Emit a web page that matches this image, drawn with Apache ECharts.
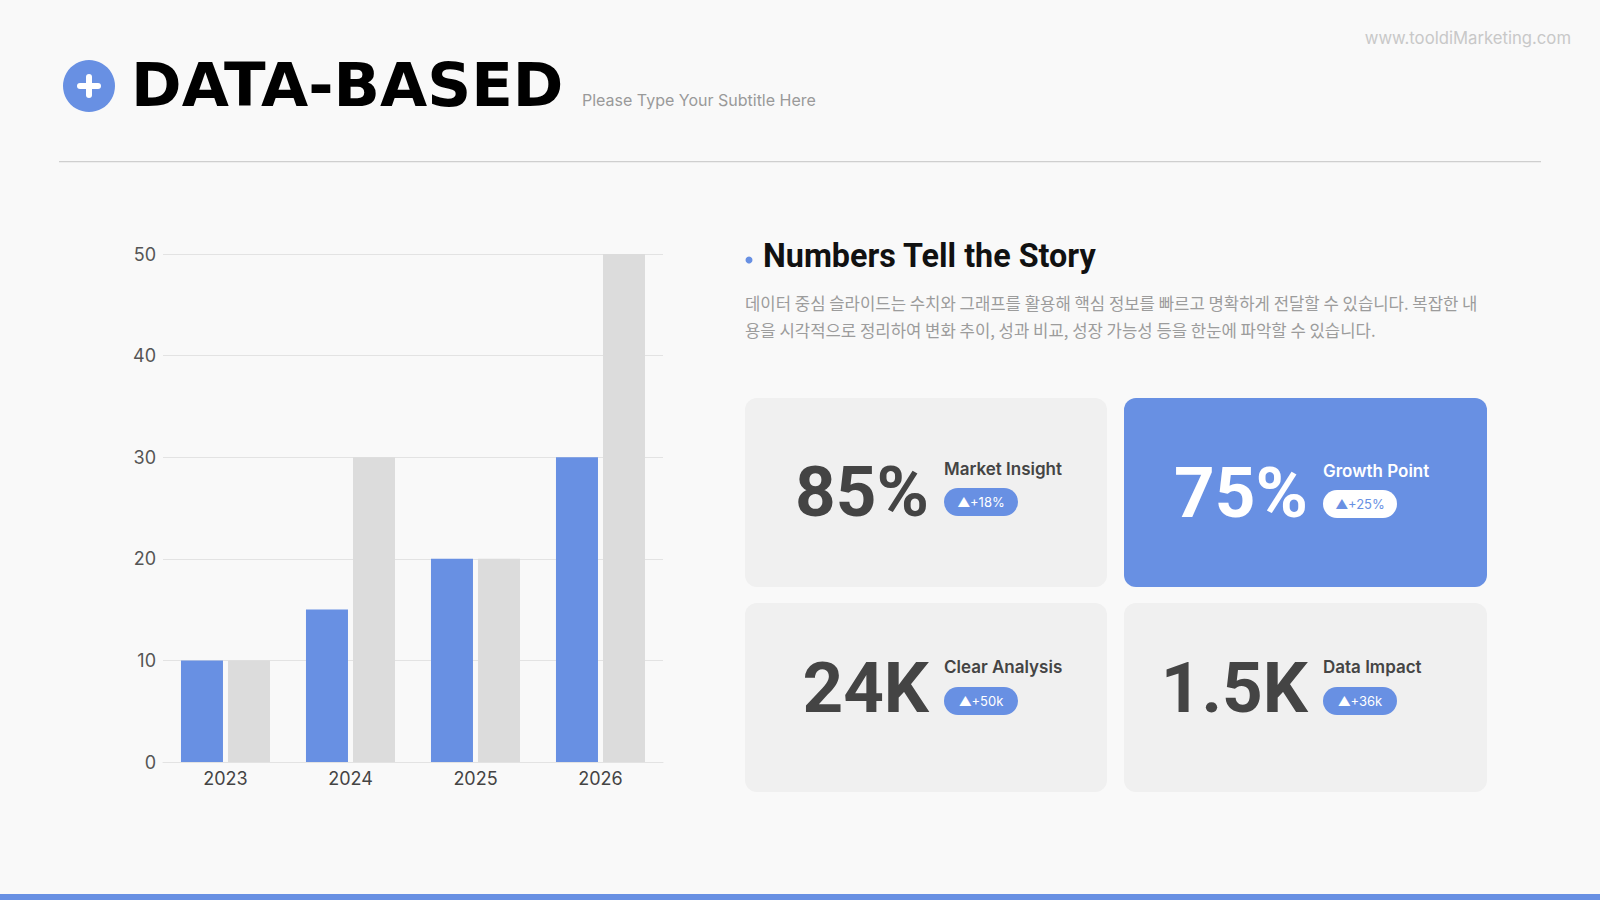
<!DOCTYPE html>
<html><head><meta charset="utf-8">
<script src="https://cdn.jsdelivr.net/npm/echarts@6/dist/echarts.min.js"></script>
<style>html,body{margin:0;padding:0;background:#f9f9f9}#c{width:1600px;height:900px}</style>
</head><body><div id="c"></div>
<script>
// ---- data ----
const years = ['2023', '2024', '2025', '2026'];
const blueValues = [10, 15, 20, 30];
const grayValues = [10, 30, 20, 50];
const yMin = 0, yMax = 50, yInterval = 10;
const cardValues = ['85%', '75%', '24K', '1.5K'];
const cardLabels = ['Market Insight', 'Growth Point', 'Clear Analysis', 'Data Impact'];
const cardChanges = ['+18%', '+25%', '+50k', '+36k'];
const titleText = 'DATA-BASED';
const subtitleText = 'Please Type Your Subtitle Here';
const siteText = 'www.tooldiMarketing.com';
const storyTitle = 'Numbers Tell the Story';
const storyLines = [
  '데이터 중심 슬라이드는 수치와 그래프를 활용해 핵심 정보를 빠르고 명확하게 전달할 수 있습니다. 복잡한 내',
  '용을 시각적으로 정리하여 변화 추이, 성과 비교, 성장 가능성 등을 한눈에 파악할 수 있습니다.'
];

// ---- styling / layout ----
const BLUE = '#6890e3';
const GRAY = '#dcdcdc';
const FONT = 'Inter, "Noto Sans", sans-serif';
const NFONT = 'Roboto, Inter, sans-serif';
const KFONT = '"Noto Sans CJK KR", "Noto Sans", sans-serif';

const cardBoxes = [
  {x: 745, y: 398, w: 362, h: 189, hl: false, numY: 491, labY: 469, pillY: 502},
  {x: 1124, y: 398, w: 363, h: 189, hl: true, numY: 492, labY: 471, pillY: 504},
  {x: 745, y: 603, w: 362, h: 189, hl: false, numY: 687, labY: 667, pillY: 701},
  {x: 1124, y: 603, w: 363, h: 189, hl: false, numY: 687, labY: 667, pillY: 701}
];

const graphics = [];
// header
graphics.push({type: 'circle', shape: {cx: 89, cy: 86, r: 26}, style: {fill: BLUE}});
graphics.push({type: 'rect', shape: {x: 77, y: 83, width: 24, height: 6, r: 3}, style: {fill: '#fff'}});
graphics.push({type: 'rect', shape: {x: 86, y: 74, width: 6, height: 24, r: 3}, style: {fill: '#fff'}});
graphics.push({type: 'text', style: {text: titleText, x: 131, y: 84, fill: '#000', font: '900 61px "DejaVu Sans", sans-serif', textVerticalAlign: 'middle'}});
graphics.push({type: 'text', style: {text: subtitleText, x: 582, y: 100, fill: '#9a9a9a', font: '400 16px ' + FONT, textVerticalAlign: 'middle'}});
graphics.push({type: 'text', style: {text: siteText, x: 1571, y: 38, fill: '#c8c8c8', font: '400 16.7px ' + FONT, textAlign: 'right', textVerticalAlign: 'middle'}});
graphics.push({type: 'rect', shape: {x: 59, y: 161, width: 1482, height: 1.2}, style: {fill: '#cfcfcf'}});
graphics.push({type: 'rect', shape: {x: 0, y: 894, width: 1600, height: 6}, style: {fill: BLUE}});

// story section
graphics.push({type: 'circle', shape: {cx: 749, cy: 260, r: 3.5}, style: {fill: BLUE}});
graphics.push({type: 'text', style: {text: storyTitle, x: 763, y: 256, fill: '#111', font: '700 32.3px ' + NFONT, textVerticalAlign: 'middle'}});
storyLines.forEach((t, i) => {
  graphics.push({type: 'text', style: {text: t, x: 745, y: 303 + i * 27, fill: '#9c9c9c', font: '400 16.7px ' + KFONT, textVerticalAlign: 'middle'}});
});

// cards
cardBoxes.forEach((b, i) => {
  const hl = b.hl;
  graphics.push({type: 'rect', shape: {x: b.x, y: b.y, width: b.w, height: b.h, r: 12}, style: {fill: hl ? BLUE : '#f0f0f0'}});
  const numRight = b.x + 184;
  const labX = b.x + 199;
  graphics.push({type: 'text', style: {text: cardValues[i], x: numRight, y: b.numY, fill: hl ? '#fff' : '#444', font: '700 71px ' + NFONT, textAlign: 'right', textVerticalAlign: 'middle'}});
  graphics.push({type: 'text', style: {text: cardLabels[i], x: labX, y: b.labY, fill: hl ? '#fff' : '#444', font: '600 17px ' + FONT, textVerticalAlign: 'middle'}});
  graphics.push({type: 'rect', shape: {x: labX, y: b.pillY - 14, width: 74, height: 28, r: 14}, style: {fill: hl ? '#fff' : BLUE}});
  graphics.push({type: 'text', style: {text: '▲' + cardChanges[i], x: labX + 37, y: b.pillY, fill: hl ? BLUE : '#fff', font: '400 13px ' + FONT, textAlign: 'center', textVerticalAlign: 'middle'}});
});

const chart = echarts.init(document.getElementById('c'), null, {renderer: 'svg', width: 1600, height: 900});
chart.setOption({
  backgroundColor: '#f9f9f9',
  animation: false,
  grid: {left: 163, top: 254, width: 500, height: 508, containLabel: false},
  xAxis: {
    type: 'category', data: years,
    axisLine: {show: true, lineStyle: {color: '#e3e3e3', width: 1}},
    axisTick: {show: false},
    axisLabel: {color: '#444', fontSize: 18, fontFamily: FONT, margin: 7}
  },
  yAxis: {
    type: 'value', min: yMin, max: yMax, interval: yInterval,
    axisLine: {show: false}, axisTick: {show: false},
    splitLine: {lineStyle: {color: '#e3e3e3', width: 1}},
    axisLabel: {color: '#555', fontSize: 18, fontFamily: FONT, margin: 7}
  },
  series: [
    {type: 'bar', data: blueValues, barWidth: 42, barGap: '12%', itemStyle: {color: BLUE}},
    {type: 'bar', data: grayValues, barWidth: 42, itemStyle: {color: GRAY}}
  ],
  graphic: {elements: graphics}
});
</script>
</body></html>
